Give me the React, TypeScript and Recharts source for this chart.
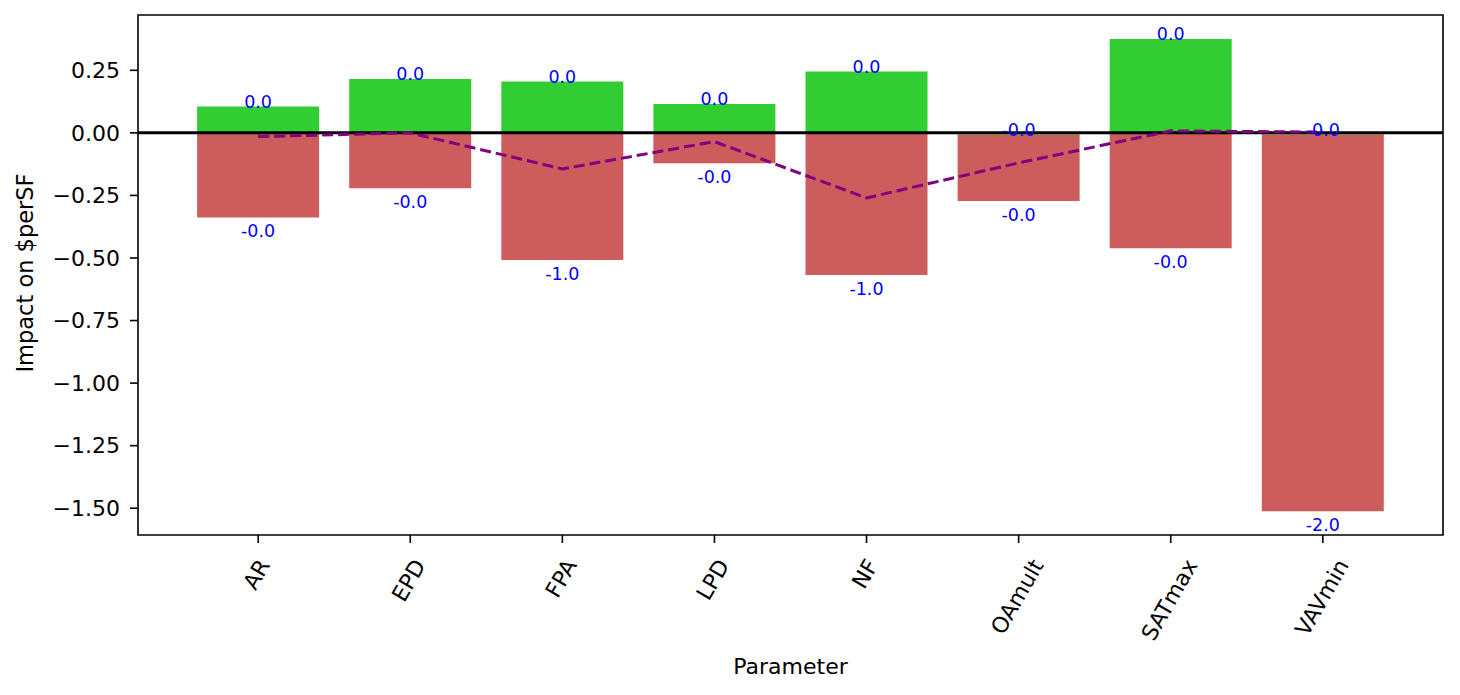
// App.tsx — positive / negative impact of each parameter on $perSF, with the net effect
// drawn as a dashed purple line and rounded value labels above / below each bar.

import {
  Bar,
  ComposedChart,
  LabelList,
  Line,
  ReferenceArea,
  ReferenceLine,
  XAxis,
  YAxis,
} from 'recharts'

const parameters = ['AR', 'EPD', 'FPA', 'LPD', 'NF', 'OAmult', 'SATmax', 'VAVmin']
const positiveImpact = [0.105, 0.215, 0.205, 0.115, 0.245, -0.008, 0.375, -0.008]
const negativeImpact = [-0.338, -0.221, -0.508, -0.121, -0.568, -0.264, -0.461, -1.504]
const netImpact = [-0.015, 0.0, -0.144, -0.035, -0.26, -0.12, 0.008, 0.003]
const yTicks = [0.25, 0, -0.25, -0.5, -0.75, -1, -1.25, -1.5]

const X_DOMAIN: [number, number] = [-0.79, 7.79]
const Y_DOMAIN: [number, number] = [-1.607, 0.471]

const FONT = 'DejaVu Sans'
const COLORS = {
  pos: '#32CD32',
  neg: '#CD5C5C',
  net: '#800080',
  label: '#0000FF',
  ink: '#000000',
}

const data = parameters.map((name, i) => ({
  x: i,
  name,
  pos: positiveImpact[i],
  neg: negativeImpact[i],
  net: netImpact[i],
}))

// python-style round then one decimal, keeping the sign of -0
const fmtBar = (v: number) => `${v < 0 ? '-' : ''}${Math.abs(Math.round(v)).toFixed(1)}`
const fmtY = (v: number) => `${v < 0 ? '\u2212' : ''}${Math.abs(v).toFixed(2)}`

// rough DejaVu Sans advance widths (em) for the tick labels
const CHAR_W: Record<string, number> = {
  A: 0.684, R: 0.695, E: 0.632, P: 0.603, D: 0.77, F: 0.575, L: 0.557, N: 0.748,
  O: 0.787, S: 0.635, T: 0.611, V: 0.684, m: 0.974, u: 0.634, l: 0.278, t: 0.392,
  a: 0.613, x: 0.592, i: 0.278, n: 0.634,
}
const TICK_FS = 22
const textLen = (s: string, fs: number) =>
  s.split('').reduce((acc, c) => acc + (CHAR_W[c] ?? 0.6), 0) * fs

function XTick(props: any) {
  const { x, y, payload } = props
  const label = parameters[payload.value] ?? ''
  const L = textLen(label, TICK_FS)
  // matplotlib rotation=60, bbox centred under the tick
  const ex = x + 0.25 * L + 5
  const ey = y + 22
  return (
    <text
      x={ex}
      y={ey}
      transform={`rotate(-60, ${ex}, ${ey})`}
      textAnchor="end"
      fontFamily={FONT}
      fontSize={TICK_FS}
      fill={COLORS.ink}
    >
      {label}
    </text>
  )
}

function PosLabel(props: any) {
  const { x, y, width, height, index } = props
  const v = positiveImpact[index]
  const top = Math.min(y, y + height)
  const bottom = Math.max(y, y + height)
  const edge = v >= 0 ? top : bottom
  return (
    <text
      x={x + width / 2}
      y={edge + 1}
      textAnchor="middle"
      fontFamily={FONT}
      fontSize={17.5}
      fill={COLORS.label}
    >
      {fmtBar(v)}
    </text>
  )
}

function NegLabel(props: any) {
  const { x, y, width, height, index } = props
  const v = negativeImpact[index]
  const bottom = Math.max(y, y + height)
  return (
    <text
      x={x + width / 2}
      y={bottom + 20}
      textAnchor="middle"
      fontFamily={FONT}
      fontSize={17.5}
      fill={COLORS.label}
    >
      {fmtBar(v)}
    </text>
  )
}

export default function App() {
  return (
    <div style={{ position: 'absolute', left: 0, top: 0, width: 1460, height: 695, background: '#fff' }}>
      <ComposedChart
        width={1460}
        height={695}
        data={data}
        stackOffset="sign"
        margin={{ top: 15, right: 17, bottom: 0, left: 0 }}
      >
        <XAxis
          dataKey="x"
          type="number"
          domain={X_DOMAIN}
          ticks={[0, 1, 2, 3, 4, 5, 6, 7]}
          allowDataOverflow
          interval={0}
          height={160}
          axisLine={false}
          tickSize={8}
          tickMargin={0}
          tickLine={{ stroke: COLORS.ink, strokeWidth: 1.6 }}
          tick={<XTick />}
          label={{
            value: 'Parameter',
            position: 'insideBottom',
            offset: 21,
            fill: COLORS.ink,
            fontFamily: FONT,
            fontSize: 22,
          }}
        />
        <YAxis
          type="number"
          domain={Y_DOMAIN}
          ticks={yTicks}
          allowDataOverflow
          width={138}
          axisLine={false}
          tickSize={8}
          tickMargin={10}
          tickLine={{ stroke: COLORS.ink, strokeWidth: 1.6 }}
          tick={{ fill: COLORS.ink, fontFamily: FONT, fontSize: 22 }}
          tickFormatter={fmtY}
          label={() => (
            <text
              x={33}
              y={273}
              transform="rotate(-90, 33, 273)"
              textAnchor="middle"
              fontFamily={FONT}
              fontSize={22.5}
              fill={COLORS.ink}
            >
              Impact on $perSF
            </text>
          )}
        />
        <Bar dataKey="pos" stackId="a" fill={COLORS.pos} barSize={122} isAnimationActive={false}>
          <LabelList dataKey="pos" content={<PosLabel />} />
        </Bar>
        <Bar dataKey="neg" stackId="a" fill={COLORS.neg} barSize={122} isAnimationActive={false}>
          <LabelList dataKey="neg" content={<NegLabel />} />
        </Bar>
        <ReferenceLine y={0} stroke={COLORS.ink} strokeWidth={3} />
        <Line
          type="linear"
          dataKey="net"
          stroke={COLORS.net}
          strokeWidth={3}
          strokeDasharray="11 5"
          dot={false}
          activeDot={false}
          isAnimationActive={false}
        />
        <ReferenceArea
          x1={X_DOMAIN[0]}
          x2={X_DOMAIN[1]}
          y1={Y_DOMAIN[0]}
          y2={Y_DOMAIN[1]}
          fill="none"
          fillOpacity={0}
          stroke={COLORS.ink}
          strokeWidth={1.6}
          ifOverflow="visible"
        />
      </ComposedChart>
    </div>
  )
}
